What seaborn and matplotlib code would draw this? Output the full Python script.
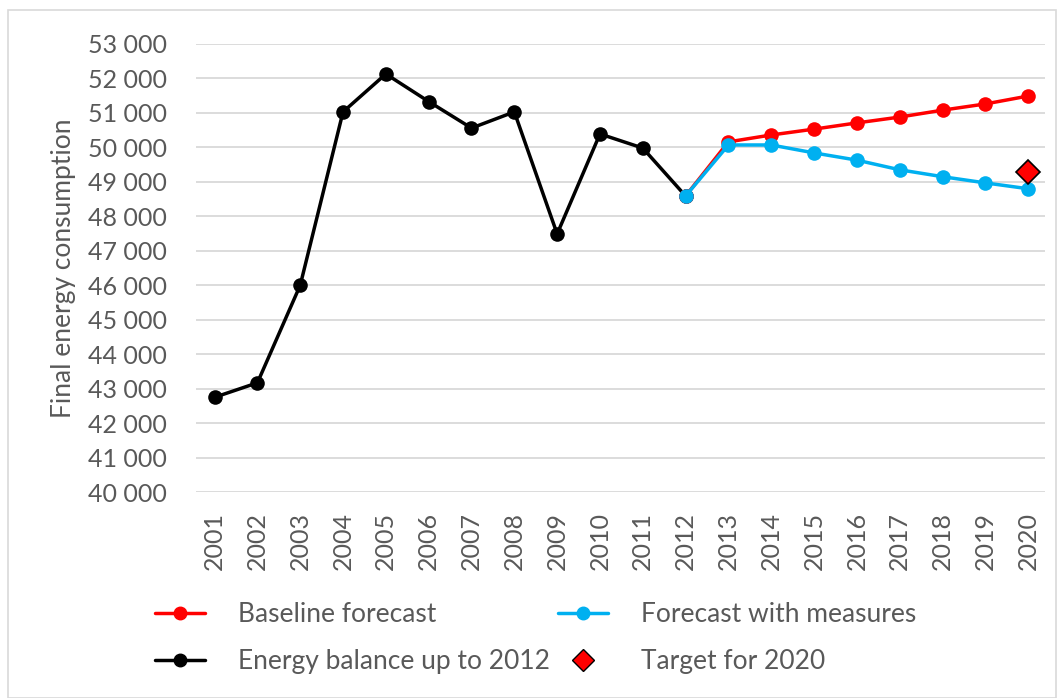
import numpy as np
import pandas as pd
import matplotlib
matplotlib.use("Agg")
import matplotlib.pyplot as plt
import seaborn as sns
from matplotlib.lines import Line2D
from matplotlib.patches import Rectangle

# === Data ===
years = [str(y) for y in range(2001, 2021)]
balance_years = years[:12]  # 2001-2012
balance = [42750, 43170, 46000, 51030, 52130, 51330, 50560, 51030,
           47490, 50390, 49980, 48590]
forecast_years = years[11:]  # 2012-2020
baseline = [48590, 50160, 50360, 50530, 50710, 50880, 51080, 51260, 51490]
measures = [48590, 50070, 50070, 49840, 49630, 49350, 49150, 48970, 48800]
target_year = "2020"
target_value = 49300

sns.set_theme(style="white")
plt.rcParams["font.family"] = ["Lato", "DejaVu Sans"]
TXT = "#595959"

pos = {y: i for i, y in enumerate(years)}
df_bal = pd.DataFrame({"x": [pos[y] for y in balance_years], "v": balance})
df_base = pd.DataFrame({"x": [pos[y] for y in forecast_years], "v": baseline})
df_meas = pd.DataFrame({"x": [pos[y] for y in forecast_years], "v": measures})

fig = plt.figure(figsize=(10.58, 6.98), dpi=100)
ax = fig.add_axes([0.185, 0.295, 0.803, 0.642])

# === Lines ===
line_kw = dict(marker="o", markersize=10.5, linewidth=2.5, markeredgewidth=0)
sns.lineplot(data=df_bal, x="x", y="v", color="black", ax=ax, **line_kw)
sns.lineplot(data=df_base, x="x", y="v", color="#FF0000", ax=ax, **line_kw)
sns.lineplot(data=df_meas, x="x", y="v", color="#00B0F0", ax=ax, **line_kw)
ax.plot([pos[target_year]], [target_value], marker="D", markersize=12,
         color="#FF0000", markeredgecolor="black", markeredgewidth=1.2,
         linestyle="none", zorder=5)

# === Axes ===
ax.set_ylim(40000, 53000)
ax.set_yticks(np.arange(40000, 53001, 1000))
ax.set_yticklabels([f"{int(v/1000)} 000" for v in np.arange(40000, 53001, 1000)])
ax.set_xlim(-0.44, 19.4)
ax.set_xticks(range(len(years)))
ax.set_xticklabels(years, rotation=90)
ax.tick_params(axis="both", labelsize=18, colors=TXT, length=0)
ax.tick_params(axis="y", pad=21)
ax.tick_params(axis="x", pad=14)
ax.grid(axis="y", color="#d9d9d9", linewidth=1.3)
ax.set_axisbelow(True)
for s in ax.spines.values():
    s.set_visible(False)
ax.set_xlabel("")
ax.set_ylabel("Final energy consumption", fontsize=19, color=TXT, labelpad=8)

# === Legend ===
handles = [
    Line2D([], [], color="#FF0000", marker="o", markersize=9, linewidth=2.5),
    Line2D([], [], color="black", marker="o", markersize=9, linewidth=2.5),
    Line2D([], [], color="#00B0F0", marker="o", markersize=9, linewidth=2.5),
    Line2D([], [], color="#FF0000", marker="D", markersize=11, markeredgecolor="black",
           linestyle="none"),
]
labels = ["Baseline forecast", "Energy balance up to 2012",
          "Forecast with measures", "Target for 2020"]
leg = fig.legend(handles, labels, ncol=2, loc="center left",
                 bbox_to_anchor=(0.1465, 0.086), frameon=False, fontsize=19,
                 handlelength=1.9, handletextpad=1.25, columnspacing=0.3,
                 labelspacing=0.85, borderpad=0, borderaxespad=0)
for t in leg.get_texts():
    t.set_color(TXT)

fig.patches.append(Rectangle((0.008, 0.0), 0.99, 0.985, transform=fig.transFigure,
                             fill=False, edgecolor="#d9d9d9", linewidth=1.2))

fig.savefig("out.png", dpi=100)
